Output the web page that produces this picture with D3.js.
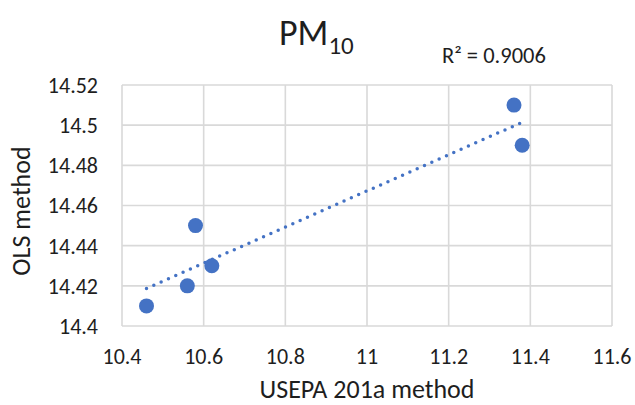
<!DOCTYPE html>
<meta charset="utf-8">
<style>
body { margin: 0; background: #fff; }
text { font-family: Carlito, Calibri, Lato, sans-serif; fill: #1e1e1e; }
.grid line { stroke: #d9d9d9; stroke-width: 1.6px; }
.trend { fill: none; stroke: #4472c4; stroke-width: 3.5px; stroke-dasharray: 0 8; stroke-linecap: round; }
.dot { fill: #4472c4; }
</style>
<body></body>
<script src="https://cdn.jsdelivr.net/npm/d3@7"></script>
<script>
// data
var usepa = [10.46, 10.56, 10.58, 10.62, 11.36, 11.38];
var ols   = [14.41, 14.42, 14.45, 14.43, 14.51, 14.49];
var xTicks = [10.4, 10.6, 10.8, 11, 11.2, 11.4, 11.6];
var yTicks = [14.4, 14.42, 14.44, 14.46, 14.48, 14.5, 14.52];

var margin = {top: 85, right: 23, bottom: 79, left: 122},
    width = 635 - margin.left - margin.right,
    height = 405 - margin.top - margin.bottom;

var svg = d3.select("body").append("svg")
    .attr("width", 635).attr("height", 405);
var g = svg.append("g")
    .attr("transform", "translate(" + margin.left + "," + margin.top + ")");

var x = d3.scaleLinear().domain([10.4, 11.6]).range([0, width]);
var y = d3.scaleLinear().domain([14.4, 14.52]).range([height, 0]);

// gridlines (the outer ones make the box)
var grid = g.append("g").attr("class", "grid");
grid.selectAll(".vx").data(xTicks).enter().append("line")
    .attr("x1", d => x(d)).attr("x2", d => x(d))
    .attr("y1", 0).attr("y2", height);
grid.selectAll(".hy").data(yTicks).enter().append("line")
    .attr("y1", d => y(d)).attr("y2", d => y(d))
    .attr("x1", 0).attr("x2", width);

// tick labels
g.selectAll(".xl").data(xTicks).enter().append("text")
    .attr("x", d => x(d)).attr("y", height + 38)
    .attr("text-anchor", "middle").style("font-size", "22px")
    .text(d => d);
g.selectAll(".yl").data(yTicks).enter().append("text")
    .attr("x", -24).attr("y", d => y(d)).attr("dy", "0.36em")
    .attr("text-anchor", "end").style("font-size", "22px")
    .text(d => d);

// linear trendline (least squares)
var pts = usepa.map((v, i) => ({x: v, y: ols[i]}));
var mx = d3.mean(usepa), my = d3.mean(ols);
var sxy = d3.sum(pts, d => (d.x - mx) * (d.y - my));
var sxx = d3.sum(pts, d => (d.x - mx) * (d.x - mx));
var syy = d3.sum(pts, d => (d.y - my) * (d.y - my));
var slope = sxy / sxx, icpt = my - slope * mx;
var r2 = sxy * sxy / (sxx * syy);
var ends = d3.extent(usepa).map(v => ({x: v, y: icpt + slope * v}));

g.append("path").datum(ends).attr("class", "trend")
    .attr("d", d3.line().x(d => x(d.x)).y(d => y(d.y)));

g.selectAll(".dot").data(pts).enter().append("circle")
    .attr("class", "dot").attr("r", 7.5)
    .attr("cx", d => x(d.x)).attr("cy", d => y(d.y));

// title
var title = svg.append("text").attr("x", 279).attr("y", 45)
    .style("font-size", "36px");
title.append("tspan").text("PM");
title.append("tspan").attr("dy", 9).style("font-size", "25px").text("10");

svg.append("text").attr("x", 442).attr("y", 63)
    .style("font-size", "22.5px")
    .text("R\u00b2 = " + r2.toFixed(4));

// axis titles
svg.append("text").attr("x", margin.left + width / 2).attr("y", 398)
    .attr("text-anchor", "middle").style("font-size", "26px")
    .text("USEPA 201a method");
svg.append("text")
    .attr("transform", "translate(30,211) rotate(-90)")
    .attr("text-anchor", "middle").style("font-size", "26px")
    .text("OLS method");
</script>
